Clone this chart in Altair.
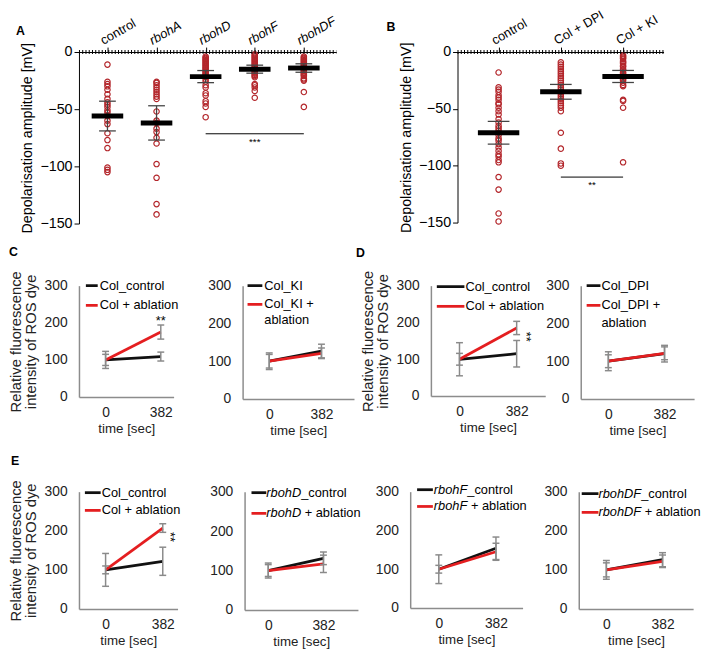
import json
import altair as alt
import pandas as pd

FONT = "Liberation Sans"
RED_PT = "#b3262b"
RED = "#e41e20"
BLACK = "#111111"
GREY = "#8a8a8a"
AXGREY = "#8c8c8c"

# ---------------- Panel A data ----------------
a_groups = ["control", "rbohA", "rbohD", "rbohF", "rbohDF"]
a_control = [-11, -26, -28, -30, -33, -37, -41, -44, -46, -48, -51, -53, -56, -60, -63, -71, -77, -84, -101, -103, -105]
a_rbohA = [-26, -27, -29, -31, -33, -35, -37, -39, -41, -52, -60, -62, -67, -70, -75, -80, -98, -110, -133, -142]
a_rbohD = [-4, -5, -6, -7, -8, -9, -10, -11, -12, -13, -14, -15, -16, -17, -18, -19, -20, -21, -22, -24, -26, -29, -31, -36, -38, -43, -45, -48, -57]
a_rbohF = [-2, -3, -4, -5, -6, -7, -8, -9, -10, -11, -12, -13, -14, -15, -16, -17, -18, -19, -20, -21, -22, -28, -29, -31, -34, -40]
a_rbohDF = [-4, -5, -6, -7, -8, -9, -10, -11, -12, -13, -14, -15, -16, -17, -18, -19, -20, -21, -23, -24, -25, -35, -48]
a_means = [-56, -62, -21.5, -15, -14]
a_errs = [13, 15, 5.3, 3.5, 3.7]
a_sig_from, a_sig_to, a_sig_level, a_sig_label = 2, 4, -71.5, "***"

# ---------------- Panel B data ----------------
b_groups = ["control", "Col + DPI", "Col + KI"]
b_control = [-18, -31, -33, -35, -38, -40, -42, -45, -46, -49, -52, -55, -59, -62, -65, -67, -69, -71, -73, -76, -78, -81, -84, -87, -90, -92, -95, -97, -110, -121, -142, -149]
b_dpi = [-9, -11, -13, -15, -17, -19, -21, -23, -25, -27, -29, -31, -33, -35, -37, -39, -41, -43, -45, -47, -49, -52, -71, -85, -98, -100]
b_ki = [-3, -4, -5, -6, -8, -9, -10, -12, -13, -15, -16, -18, -19, -21, -22, -24, -25, -27, -29, -30, -42, -43, -49, -97]
b_means = [-71, -35, -21.5]
b_errs = [10, 6.5, 5.3]
b_sig_from, b_sig_to, b_sig_level, b_sig_label = 1, 2, -110, "**"

# ---------------- Panels C, D, E data ----------------
times = [0, 382]
c1_ctrl, c1_ctrl_err = [100, 109], [15, 12]
c1_abl, c1_abl_err = [100, 175], [23, 19]
c2_ctrl, c2_ctrl_err = [100, 127], [18, 18]
c2_abl, c2_abl_err = [100, 121], [22, 14]
d1_ctrl, d1_ctrl_err = [100, 115], [45, 36]
d1_abl, d1_abl_err = [100, 185], [16, 18]
d2_ctrl, d2_ctrl_err = [100, 120], [25, 22]
d2_abl, d2_abl_err = [100, 121], [17, 17]
e1_ctrl, e1_ctrl_err = [100, 122], [42, 36]
e1_abl, e1_abl_err = [100, 207], [10, 11]
e2_ctrl, e2_ctrl_err = [100, 131], [19, 16]
e2_abl, e2_abl_err = [100, 117], [15, 22]
e3_ctrl, e3_ctrl_err = [100, 154], [37, 29]
e3_abl, e3_abl_err = [100, 145], [10, 22]
e4_ctrl, e4_ctrl_err = [100, 126], [24, 18]
e4_abl, e4_abl_err = [100, 122], [18, 16]

c1_legend = [("", "Col_control", ""), ("", "Col + ablation", "")]
c2_legend = [("", "Col_KI", ""), ("", "Col_KI +", "ablation")]
d1_legend = [("", "Col_control", ""), ("", "Col + ablation", "")]
d2_legend = [("", "Col_DPI", ""), ("", "Col_DPI +", "ablation")]
e1_legend = [("", "Col_control", ""), ("", "Col + ablation", "")]
e2_legend = [("rbohD", "_control", ""), ("rbohD", "+ ablation", "")]
e3_legend = [("rbohF", "_control", ""), ("rbohF", "+ ablation", "")]
e4_legend = [("rbohDF", "_control", ""), ("rbohDF", "+ ablation", "")]

ONE = pd.DataFrame({"k": [0]})
CHAR_W = {"r": .333, "b": .556, "o": .556, "h": .556, "D": .722, "F": .611}


def text_at(s, x, y, size=13, style="normal", weight="normal", align="left"):
    return alt.Chart(ONE).mark_text(align=align, baseline="middle", fontSize=size,
                                    fontStyle=style, fontWeight=weight, color="black",
                                    font=FONT).encode(
        x=alt.value(x), y=alt.value(y), text=alt.value(s))


def strip_panel(groups, series, means, errs, sig, w, h, xdom, italic, letter, letter_xy,
                bar_w, cap_w):
    pts = pd.DataFrame({
        "idx": [i for i, s in enumerate(series) for _ in s],
        "value": [v for s in series for v in s],
    })
    stats = pd.DataFrame({
        "idx": list(range(len(groups))),
        "value": means,
        "lo": [m - e for m, e in zip(means, errs)],
        "hi": [m + e for m, e in zip(means, errs)],
    })
    xs = alt.Scale(domain=xdom, nice=False, zero=False)
    ys = alt.Scale(domain=[-150, 0], nice=False)
    style = ({"condition": {"test": "datum.value != 0", "value": "italic"}, "value": "normal"}
             if italic else "normal")
    xaxis = alt.Axis(orient="top", values=list(range(len(groups))),
                     labelExpr=json.dumps(groups) + "[datum.value]",
                     labelAngle=330, labelAlign="left", labelBaseline="bottom",
                     labelFontSize=13, labelPadding=0, labelOffset=-3,
                     labelOverlap=False, labelFlush=False,
                     labelFontStyle=style, tickSize=5, tickColor="black", domainColor="black",
                     labelColor="black", title=None, grid=False)
    yaxis = alt.Axis(values=[0, -50, -100, -150], tickSize=5, tickColor="black",
                     domainColor="black", labelColor="black", labelFontSize=14.5,
                     labelPadding=2, title="Depolarisation amplitude [mV]",
                     titleFontSize=14.5, titleFontWeight="normal", titleColor="black",
                     titlePadding=5, grid=False)
    X = lambda f: alt.X(f, scale=xs, axis=xaxis)
    Y = lambda f: alt.Y(f, scale=ys, axis=yaxis)

    points = alt.Chart(pts).mark_point(shape="circle", filled=False, size=30, strokeWidth=1.2,
                                       color=RED_PT, opacity=1).encode(
        x=X("idx:Q"), y=Y("value:Q"))
    comb = alt.Chart(ONE).mark_rule(color="black", strokeWidth=4, strokeDash=[1, 2.3]).encode(
        x=alt.value(0), x2=alt.value(w), y=alt.value(0))
    mean = alt.Chart(stats).mark_tick(orient="horizontal", size=bar_w, thickness=5,
                                      color="black", opacity=1).encode(
        x=X("idx:Q"), y=Y("value:Q"))
    err = alt.Chart(stats).mark_rule(color="#444", strokeWidth=1.3).encode(
        x=X("idx:Q"), y=Y("lo:Q"), y2="hi:Q")
    cap_lo = alt.Chart(stats).mark_tick(orient="horizontal", size=cap_w, thickness=1.3,
                                        color="#444", opacity=1).encode(x=X("idx:Q"), y=Y("lo:Q"))
    cap_hi = alt.Chart(stats).mark_tick(orient="horizontal", size=cap_w, thickness=1.3,
                                        color="#444", opacity=1).encode(x=X("idx:Q"), y=Y("hi:Q"))
    s_from, s_to, s_level, s_label = sig
    sig_df = pd.DataFrame({"a": [s_from], "b": [s_to], "m": [(s_from + s_to) / 2],
                           "lev": [s_level], "lab": [s_label]})
    sig_rule = alt.Chart(sig_df).mark_rule(color="black", strokeWidth=1).encode(
        x=X("a:Q"), x2="b:Q", y=Y("lev:Q"))
    sig_text = alt.Chart(sig_df).mark_text(baseline="top", dy=3, fontSize=10, color="black",
                                           font=FONT).encode(
        x=X("m:Q"), y=Y("lev:Q"), text="lab:N")
    lt = text_at(letter, letter_xy[0], letter_xy[1], size=12.5, weight="bold")
    return alt.layer(points, comb, err, cap_lo, cap_hi, mean, sig_rule, sig_text, lt).properties(
        width=w, height=h)


def line_panel(ctrl, ctrl_err, abl, abl_err, entries, w, h, x0, step, leg,
               ytitle=False, letter=None, letter_xy=None, star=None):
    xs = alt.Scale(domain=[-x0 / step * 382, (w - x0) / step * 382], nice=False, zero=False)
    ys = alt.Scale(domain=[0, 300], nice=False)
    dfc = pd.DataFrame({"t": times, "mean": ctrl,
                        "lo": [m - e for m, e in zip(ctrl, ctrl_err)],
                        "hi": [m + e for m, e in zip(ctrl, ctrl_err)]})
    dfa = pd.DataFrame({"t": times, "mean": abl,
                        "lo": [m - e for m, e in zip(abl, abl_err)],
                        "hi": [m + e for m, e in zip(abl, abl_err)]})
    xaxis = alt.Axis(values=times, ticks=False, domainColor=AXGREY, domainWidth=1.5,
                     labelColor="#222", labelFontSize=14, labelPadding=9, labelFlush=False,
                     title="time [sec]", titleFontSize=13.5, titleFontWeight="normal",
                     titleColor="#222", titlePadding=2, grid=False)
    yaxis = alt.Axis(values=[0, 100, 200, 300], ticks=False, domainColor=AXGREY,
                     domainWidth=1.5, labelColor="#222", labelFontSize=14, labelPadding=12,
                     labelFlush=False,
                     title=["Relative fluorescence", "intensity of ROS dye"] if ytitle else None,
                     titleFontSize=15, titleFontWeight="normal", titleColor="#222",
                     titlePadding=6, titleLineHeight=15, grid=False)
    X = lambda f: alt.X(f, scale=xs, axis=xaxis)
    Y = lambda f: alt.Y(f, scale=ys, axis=yaxis)
    layers = [
        alt.Chart(dfc).mark_line(color=BLACK, strokeWidth=2.8).encode(x=X("t:Q"), y=Y("mean:Q")),
        alt.Chart(dfa).mark_line(color=RED, strokeWidth=2.8).encode(x=X("t:Q"), y=Y("mean:Q")),
    ]
    for d in (dfc, dfa):
        layers.append(alt.Chart(d).mark_rule(color=GREY, strokeWidth=1.5).encode(
            x=X("t:Q"), y=Y("lo:Q"), y2="hi:Q"))
        for f in ("lo:Q", "hi:Q"):
            layers.append(alt.Chart(d).mark_tick(orient="horizontal", size=7, thickness=1.5,
                                                 color=GREY, opacity=1).encode(
                x=X("t:Q"), y=Y(f)))
    seg0, seg1, tx, y0, dy, wrap_dy = leg
    for i, (ital, norm, extra) in enumerate(entries):
        yy = y0 + i * dy
        layers.append(alt.Chart(ONE).mark_rule(color=[BLACK, RED][i], strokeWidth=2.8).encode(
            x=alt.value(seg0), x2=alt.value(seg1), y=alt.value(yy)))
        xx = tx
        if ital:
            layers.append(text_at(ital, xx, yy, style="italic"))
            xx += sum(CHAR_W[c] for c in ital) * 13 + (3.6 if norm.startswith("+") else 0)
        layers.append(text_at(norm, xx, yy))
        if extra:
            layers.append(text_at(extra, tx, yy + wrap_dy))
    if star:
        st, sv, slab, sang, sdy = star
        sdf = pd.DataFrame({"t": [st], "v": [sv], "s": [slab]})
        layers.append(alt.Chart(sdf).mark_text(fontSize=13, angle=sang, dy=sdy, color="#000000",
                                               font=FONT, baseline="middle").encode(
            x=X("t:Q"), y=Y("v:Q"), text="s:N"))
    if letter:
        layers.append(text_at(letter, letter_xy[0], letter_xy[1], size=12.5, weight="bold"))
    return alt.layer(*layers).properties(width=w, height=h)


A = strip_panel(a_groups, [a_control, a_rbohA, a_rbohD, a_rbohF, a_rbohDF], a_means, a_errs,
                (a_sig_from, a_sig_to, a_sig_level, a_sig_label), 261, 174, [-0.58, 4.66],
                True, "A", (-64, -21), 32, 17)
B = strip_panel(b_groups, [b_control, b_dpi, b_ki], b_means, b_errs,
                (b_sig_from, b_sig_to, b_sig_level, b_sig_label), 209, 173, [-0.66, 2.65],
                False, "B", (-72, -25), 42, 22)

C1 = line_panel(c1_ctrl, c1_ctrl_err, c1_abl, c1_abl_err, c1_legend, 96, 113, 27, 56,
                (7, 19, 21, 0, 20, 17), ytitle=True, letter="C", letter_xy=(-71, -34),
                star=(382, 205, "**", 0, 0))
C2 = line_panel(c2_ctrl, c2_ctrl_err, c2_abl, c2_abl_err, c2_legend, 113, 115, 27, 53,
                (5, 20, 22, 0, 19, 16))
D1 = line_panel(d1_ctrl, d1_ctrl_err, d1_abl, d1_abl_err, d1_legend, 116, 112, 29, 58,
                (6, 34, 35, 1, 20, 17), ytitle=True, letter="D", letter_xy=(-76, -33),
                star=(382, 161, "**", 90, -9))
D2 = line_panel(d2_ctrl, d2_ctrl_err, d2_abl, d2_abl_err, d2_legend, 115, 115, 28, 57,
                (6, 20, 21, 0, 20, 18))
E1 = line_panel(e1_ctrl, e1_ctrl_err, e1_abl, e1_abl_err, e1_legend, 100, 119, 27, 58,
                (6, 22, 23, 1, 18, 17), ytitle=True, letter="E", letter_xy=(-69, -31),
                star=(382, 184, "**", 90, -7))
E2 = line_panel(e2_ctrl, e2_ctrl_err, e2_abl, e2_abl_err, e2_legend, 115, 120, 24, 56,
                (7, 22, 22, 1, 21, 17))
E3 = line_panel(e3_ctrl, e3_ctrl_err, e3_abl, e3_abl_err, e3_legend, 114, 118, 29, 58,
                (7, 23, 24, -2, 17, 17))
E4 = line_panel(e4_ctrl, e4_ctrl_err, e4_abl, e4_abl_err, e4_legend, 116, 119, 28, 57,
                (3, 20, 20, 2, 19, 17))

row1 = alt.hconcat(A, B, spacing=49)
row2 = alt.hconcat(alt.hconcat(C1, C2, spacing=70, bounds="flush"),
                   alt.hconcat(D1, D2, spacing=36, bounds="flush"), spacing=2)
row3 = alt.hconcat(alt.hconcat(E1, E2, spacing=68, bounds="flush"),
                   alt.hconcat(E3, E4, spacing=57, bounds="flush"), spacing=14)

chart = alt.vconcat(row1, alt.vconcat(row2, row3, spacing=18), spacing=13).properties(
    padding={"left": 0, "top": -5, "right": 0, "bottom": 0}, background="white"
).configure(font=FONT).configure_view(stroke=None).configure_axis(
    labelFont=FONT, titleFont=FONT)

chart.save("out.html", embed_options={"renderer": "svg", "actions": False})
